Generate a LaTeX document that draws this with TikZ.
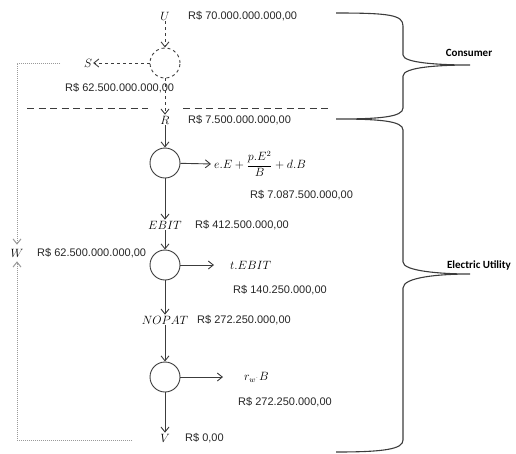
\documentclass[tikz,border=0pt]{standalone}
\usepackage{fontspec}
\setmainfont{Liberation Sans}
\newfontfamily\labelfont{Carlito}
\usetikzlibrary{arrows.meta}
\definecolor{ink}{HTML}{3C3C3C}
\definecolor{dots}{HTML}{9A9A9A}
\tikzset{
  x=1pt, y=-1pt,
  flow/.style={draw=ink, line width=0.9pt, -{Straight Barb[length=5pt,width=8pt]}},
  valve/.style={circle, draw=ink, line width=0.9pt, fill=white, minimum size=30pt, inner sep=0pt},
  var/.style={inner sep=1pt, font=\fontsize{12}{13}\selectfont},
  term/.style={anchor=west, inner sep=1pt, font=\fontsize{11.5}{13}\selectfont},
  money/.style={anchor=west, inner sep=0pt, font=\fontsize{11}{12}\selectfont, text=black!85},
  loopback/.style={draw=dots, line width=1pt, dash pattern=on 1pt off 1pt, -{Straight Barb[length=5pt,width=8pt]}},
  cut/.style={draw=ink, line width=0.9pt, dash pattern=on 7pt off 4.5pt},
  brace/.style={draw=ink, line width=1.1pt},
  side/.style={font=\labelfont\bfseries\fontsize{11}{12}\selectfont}
}
\begin{document}
\begin{tikzpicture}
\useasboundingbox (0,0) rectangle (516,453);

% main column of flows
\node[var] (U) at (165,16) {$U$};
\node[valve, dashed] (c0) at (165,63) {};
\node[var] (S) at (88,63) {$S$};
\node[var] (R) at (165,120) {$R$};
\node[valve] (c1) at (165,163) {};
\node[term] (cost) at (213,164) {$e.E+\displaystyle\frac{p.E^{2}}{B}+d.B$};
\node[var] (EBIT) at (165,225) {$EBIT$};
\node[valve] (c2) at (165,265) {};
\node[term] (tax) at (229,265) {$t.EBIT$};
\node[var] (NOPAT) at (165,320) {$NOPAT$};
\node[valve] (c3) at (165,377) {};
\node[term] (ret) at (243,377) {$r_{w^{\cdot}}B$};
\node[var] (V) at (165,438) {$V$};
\node[var, inner sep=4pt] (W) at (17,253) {$W$};

% amounts
\node[money] (mU) at (188,16) {R\$ 70.000.000.000,00};
\node[money] (mS) at (65,88) {R\$ 62.500.000.000,00};
\node[money] (mR) at (188,120) {R\$ 7.500.000.000,00};
\node[money] (mC) at (250,195) {R\$ 7.087.500.000,00};
\node[money] (mE) at (195,225) {R\$ 412.500.000,00};
\node[money] (mW) at (37,253) {R\$ 62.500.000.000,00};
\node[money] (mT) at (233,290) {R\$ 140.250.000,00};
\node[money] (mN) at (197,320) {R\$ 272.250.000,00};
\node[money] (mK) at (238,402) {R\$ 272.250.000,00};
\node[money] (mV) at (185,438) {R\$ 0,00};

% consumer stage (dashed)
\draw[flow, dashed] (U) -- (c0);
\draw[flow, dashed] (c0) -- (S);
\draw[flow, dashed] (c0) -- (R);

% utility stage
\draw[flow] (R) -- (c1);
\draw[flow, shorten >=2pt] (c1) -- (cost.west);
\draw[flow] (c1) -- (EBIT);
\draw[flow] (EBIT) -- (c2);
\draw[flow, shorten >=15pt] (c2) -- (tax.west);
\draw[flow] (c2) -- (NOPAT);
\draw[flow] (NOPAT) -- (c3);
\draw[flow, shorten >=20pt] (c3) -- (ret.west);
\draw[flow] (c3) -- (V);

% dotted returns towards W
\coordinate (sEnd) at (60,63);
\coordinate (vEnd) at (132,440);
\draw[loopback] (sEnd) -| (W.north);
\draw[loopback] (vEnd) -| (W.south);

% boundary between consumer and utility
\coordinate (cutA) at (27,108);
\coordinate (cutB) at (148,108);
\coordinate (cutC) at (183,108);
\coordinate (cutD) at (330,108);
\draw[cut] (cutA) -- (cutB);
\draw[cut] (cutC) -- (cutD);

% braces
\coordinate (tipC) at (470,65);
\coordinate (tipE) at (470,274);
\draw[brace] (336,13) .. controls (390,13) and (403,15) .. (403,26) -- (403,55)
  .. controls (403,63) and (440,65) .. (tipC)
  .. controls (440,65) and (403,67) .. (403,76) -- (403,108)
  .. controls (403,117) and (380,119) .. (336,119)
  .. controls (380,119) and (403,121) .. (403,130) -- (403,262)
  .. controls (403,271) and (440,274) .. (tipE)
  .. controls (440,274) and (403,277) .. (403,288) -- (403,440)
  .. controls (403,449) and (385,452) .. (336,452);
\node[side] (cons) at (469,53) {Consumer};
\node[side] (util) at (479,265) {Electric Utility};
\end{tikzpicture}
\end{document}
